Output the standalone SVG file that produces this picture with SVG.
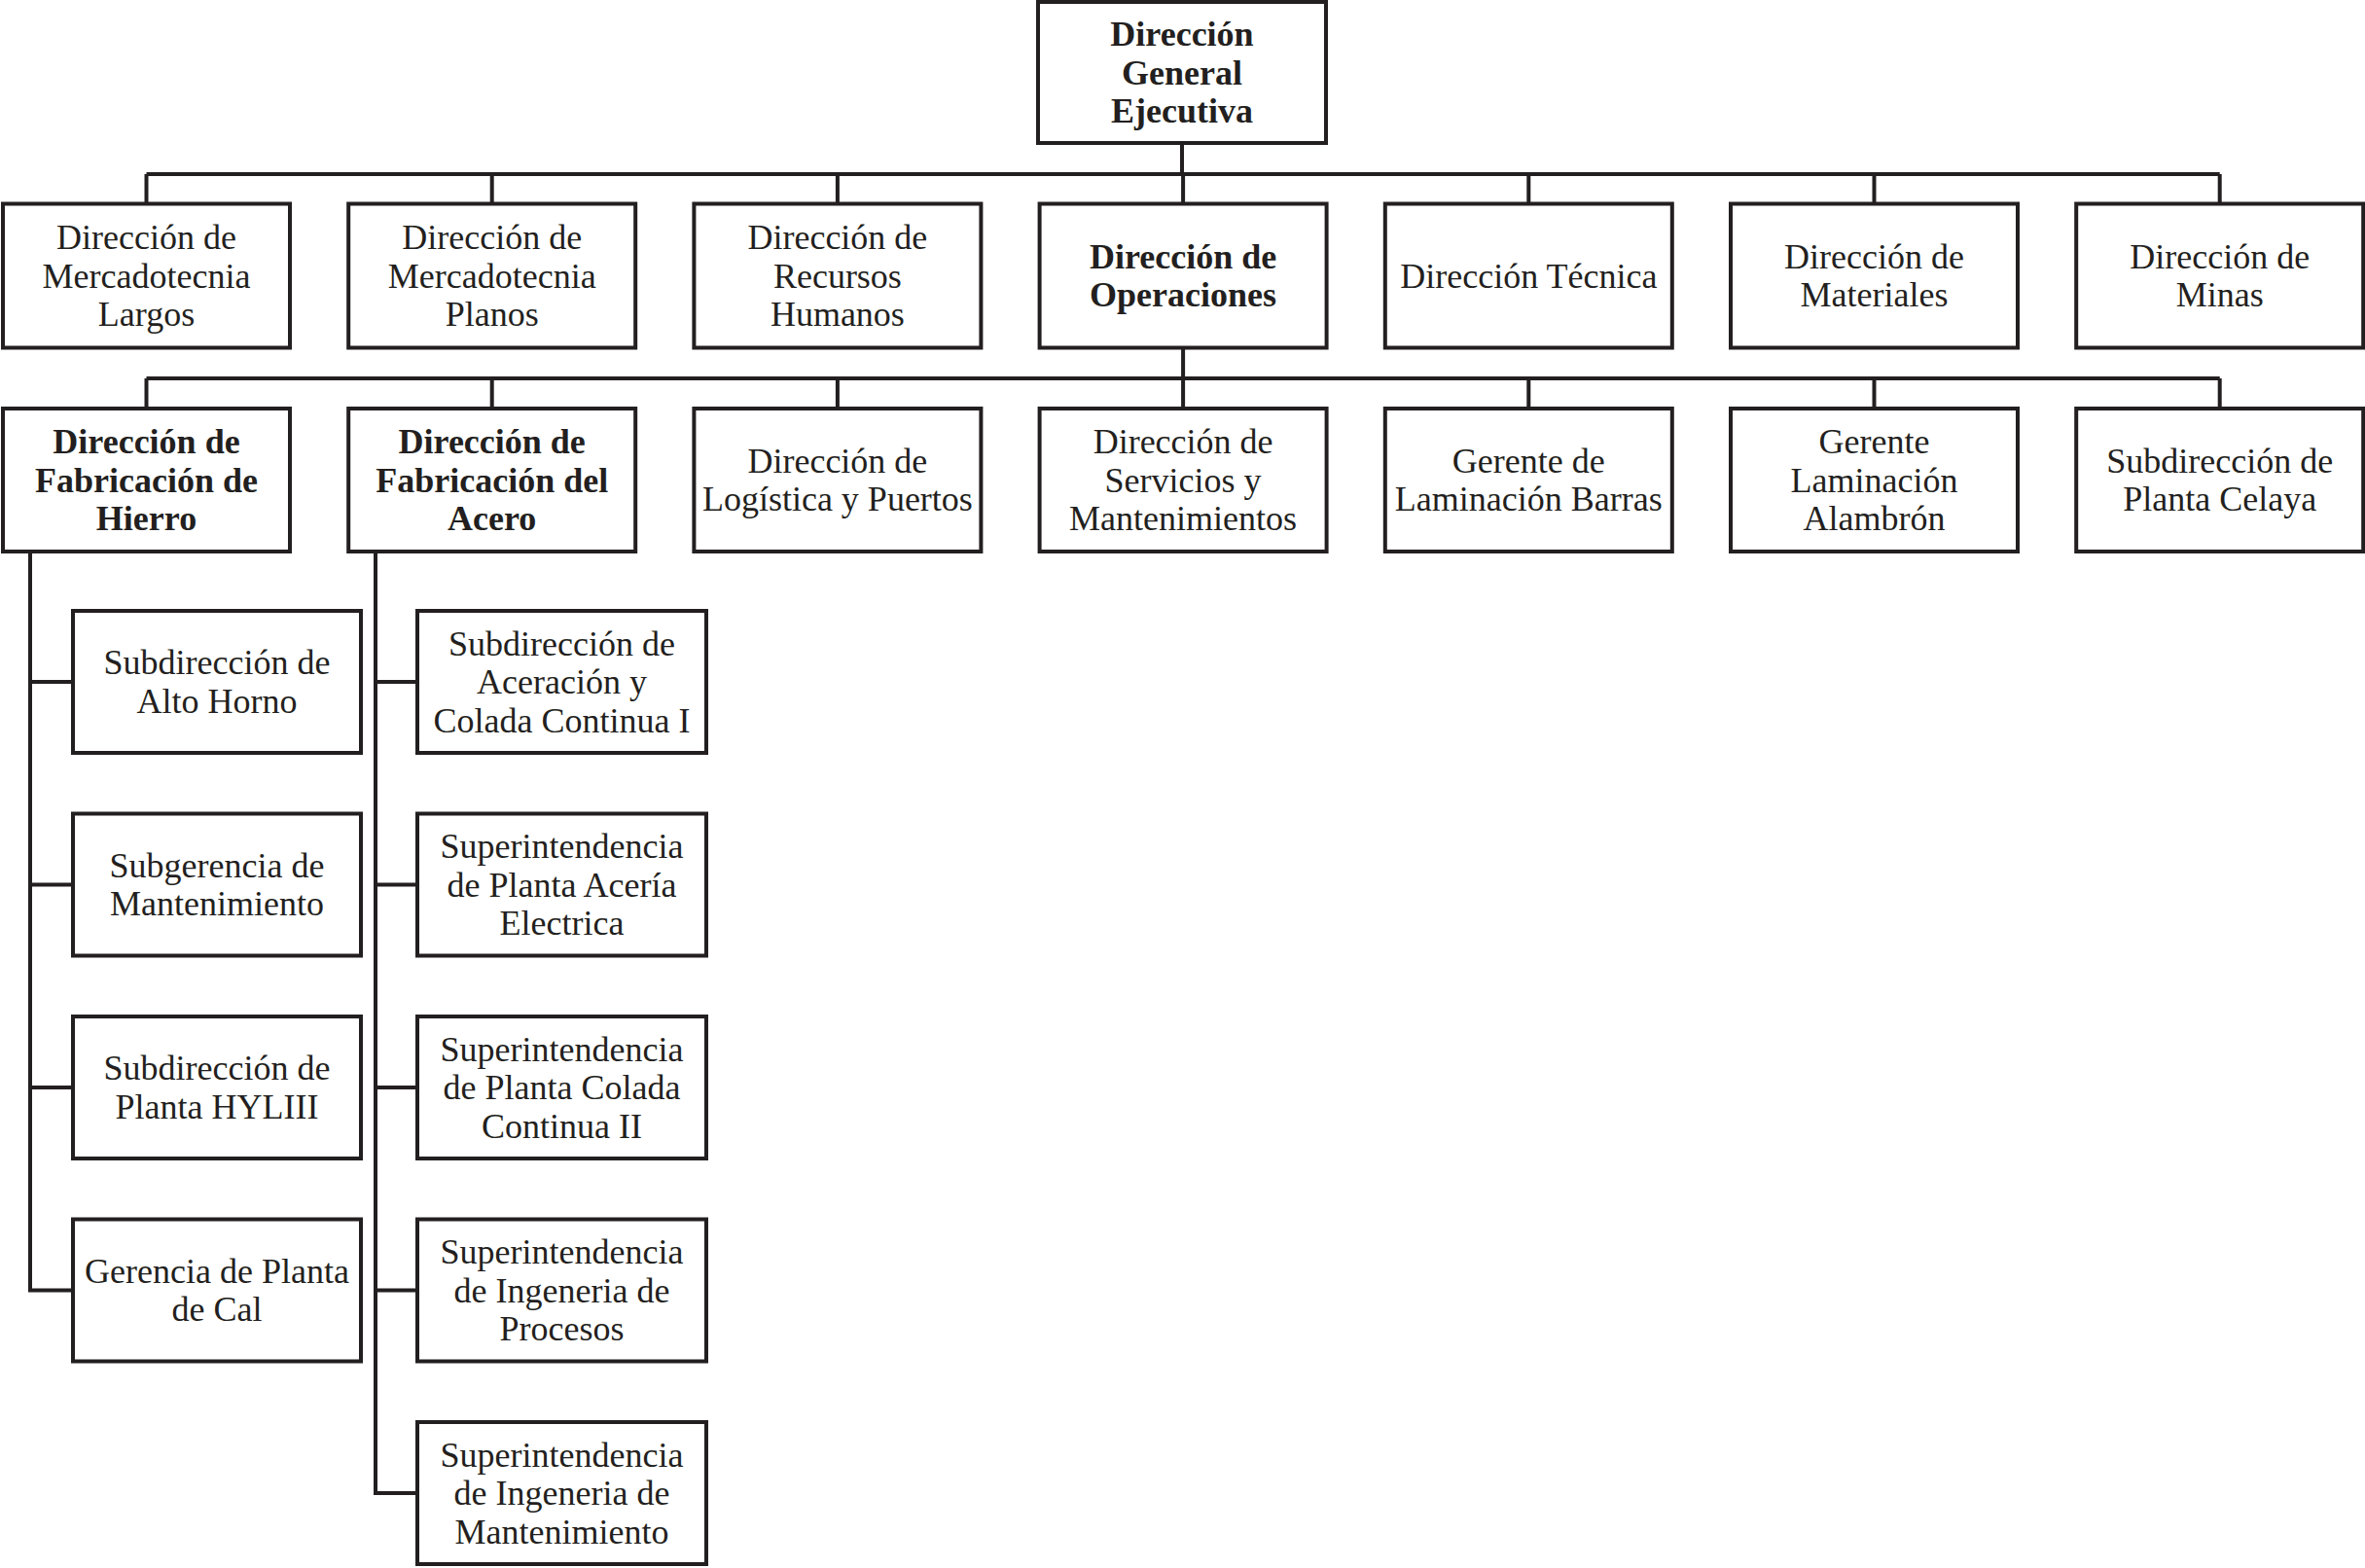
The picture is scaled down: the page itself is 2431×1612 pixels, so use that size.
<svg xmlns="http://www.w3.org/2000/svg" width="2431" height="1612" viewBox="0 0 2431 1612">
<style>
.box{fill:#fff;stroke:#231f20;stroke-width:4}
.ln{fill:none;stroke:#231f20;stroke-width:4}
text{font-family:"Liberation Serif","Times New Roman",serif;font-size:36px;fill:#231f20;text-anchor:middle}
.b{font-weight:bold}
</style>
<rect width="2431" height="1612" fill="#fff"/>
<g id="connectors">
<path class="ln" d="M1215,147V179M150.5,179H2281.7M150.5,179V209.5M505.7,179V209.5M860.9,179V209.5M1216.1,179V209.5M1571.3,179V209.5M1926.5,179V209.5M2281.7,179V209.5"/>
<path class="ln" d="M1216.1,357.5V389M150.5,389H2281.7M150.5,389V420M505.7,389V420M860.9,389V420M1216.1,389V420M1571.3,389V420M1926.5,389V420M2281.7,389V420"/>
<path class="ln" d="M31,567V1328.5M29,701H75M29,909.5H75M29,1118H75M29,1326.5H75"/>
<path class="ln" d="M386,567V1537M384,701H429M384,909.5H429M384,1118H429M384,1326.5H429M384,1535H429"/>
</g>
<g id="n0"><rect class="box" x="1067" y="2" width="296" height="145"/><text class="b" x="1215" y="47">Dirección</text><text class="b" x="1215" y="86.5">General</text><text class="b" x="1215" y="126">Ejecutiva</text></g>
<g id="n1"><rect class="box" x="3" y="209.5" width="295" height="148"/><text x="150.5" y="256">Dirección de</text><text x="150.5" y="295.5">Mercadotecnia</text><text x="150.5" y="335">Largos</text></g>
<g id="n2"><rect class="box" x="358.2" y="209.5" width="295" height="148"/><text x="505.7" y="256">Dirección de</text><text x="505.7" y="295.5">Mercadotecnia</text><text x="505.7" y="335">Planos</text></g>
<g id="n3"><rect class="box" x="713.4" y="209.5" width="295" height="148"/><text x="860.9" y="256">Dirección de</text><text x="860.9" y="295.5">Recursos</text><text x="860.9" y="335">Humanos</text></g>
<g id="n4"><rect class="box" x="1068.6" y="209.5" width="295" height="148"/><text class="b" x="1216.1" y="275.75">Dirección de</text><text class="b" x="1216.1" y="315.25">Operaciones</text></g>
<g id="n5"><rect class="box" x="1423.8" y="209.5" width="295" height="148"/><text x="1571.3" y="295.5">Dirección Técnica</text></g>
<g id="n6"><rect class="box" x="1779" y="209.5" width="295" height="148"/><text x="1926.5" y="275.75">Dirección de</text><text x="1926.5" y="315.25">Materiales</text></g>
<g id="n7"><rect class="box" x="2134.2" y="209.5" width="295" height="148"/><text x="2281.7" y="275.75">Dirección de</text><text x="2281.7" y="315.25">Minas</text></g>
<g id="n8"><rect class="box" x="3" y="420" width="295" height="147"/><text class="b" x="150.5" y="466">Dirección de</text><text class="b" x="150.5" y="505.5">Fabricación de</text><text class="b" x="150.5" y="545">Hierro</text></g>
<g id="n9"><rect class="box" x="358.2" y="420" width="295" height="147"/><text class="b" x="505.7" y="466">Dirección de</text><text class="b" x="505.7" y="505.5">Fabricación del</text><text class="b" x="505.7" y="545">Acero</text></g>
<g id="n10"><rect class="box" x="713.4" y="420" width="295" height="147"/><text x="860.9" y="485.75">Dirección de</text><text x="860.9" y="525.25">Logística y Puertos</text></g>
<g id="n11"><rect class="box" x="1068.6" y="420" width="295" height="147"/><text x="1216.1" y="466">Dirección de</text><text x="1216.1" y="505.5">Servicios y</text><text x="1216.1" y="545">Mantenimientos</text></g>
<g id="n12"><rect class="box" x="1423.8" y="420" width="295" height="147"/><text x="1571.3" y="485.75">Gerente de</text><text x="1571.3" y="525.25">Laminación Barras</text></g>
<g id="n13"><rect class="box" x="1779" y="420" width="295" height="147"/><text x="1926.5" y="466">Gerente</text><text x="1926.5" y="505.5">Laminación</text><text x="1926.5" y="545">Alambrón</text></g>
<g id="n14"><rect class="box" x="2134.2" y="420" width="295" height="147"/><text x="2281.7" y="485.75">Subdirección de</text><text x="2281.7" y="525.25">Planta Celaya</text></g>
<g id="n15"><rect class="box" x="75" y="628" width="296" height="146"/><text x="223" y="693.25">Subdirección de</text><text x="223" y="732.75">Alto Horno</text></g>
<g id="n16"><rect class="box" x="75" y="836.5" width="296" height="146"/><text x="223" y="901.75">Subgerencia de</text><text x="223" y="941.25">Mantenimiento</text></g>
<g id="n17"><rect class="box" x="75" y="1045" width="296" height="146"/><text x="223" y="1110.25">Subdirección de</text><text x="223" y="1149.75">Planta HYLIII</text></g>
<g id="n18"><rect class="box" x="75" y="1253.5" width="296" height="146"/><text x="223" y="1318.75">Gerencia de Planta</text><text x="223" y="1358.25">de Cal</text></g>
<g id="n19"><rect class="box" x="429" y="628" width="297" height="146"/><text x="577.5" y="673.5">Subdirección de</text><text x="577.5" y="713">Aceración y</text><text x="577.5" y="752.5">Colada Continua I</text></g>
<g id="n20"><rect class="box" x="429" y="836.5" width="297" height="146"/><text x="577.5" y="882">Superintendencia</text><text x="577.5" y="921.5">de Planta Acería</text><text x="577.5" y="961">Electrica</text></g>
<g id="n21"><rect class="box" x="429" y="1045" width="297" height="146"/><text x="577.5" y="1090.5">Superintendencia</text><text x="577.5" y="1130">de Planta Colada</text><text x="577.5" y="1169.5">Continua II</text></g>
<g id="n22"><rect class="box" x="429" y="1253.5" width="297" height="146"/><text x="577.5" y="1299">Superintendencia</text><text x="577.5" y="1338.5">de Ingeneria de</text><text x="577.5" y="1378">Procesos</text></g>
<g id="n23"><rect class="box" x="429" y="1462" width="297" height="146"/><text x="577.5" y="1507.5">Superintendencia</text><text x="577.5" y="1547">de Ingeneria de</text><text x="577.5" y="1586.5">Mantenimiento</text></g>
</svg>
